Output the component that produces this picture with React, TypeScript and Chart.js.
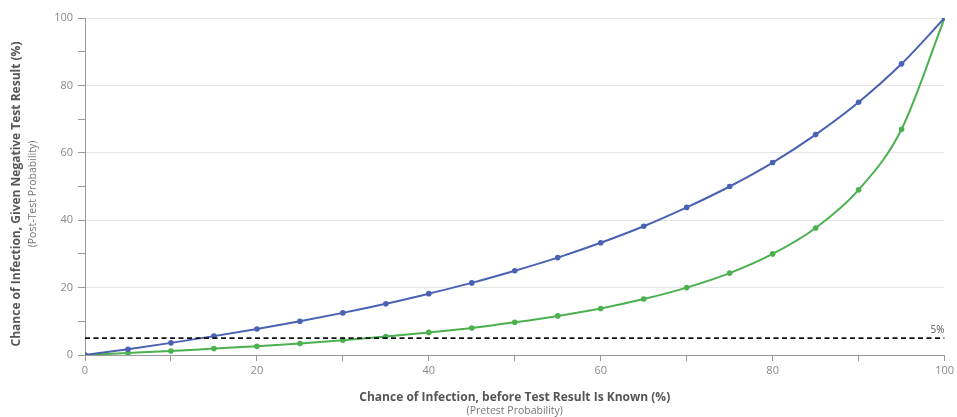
import React, { useEffect, useRef } from "react";
import { Chart, registerables } from "chart.js";

Chart.register(...registerables);

const pretest = [0, 5, 10, 15, 20, 25, 30, 35, 40, 45, 50, 55, 60, 65, 70, 75, 80, 85, 90, 95, 100];
const blueSeries = [0, 1.7, 3.6, 5.6, 7.7, 10, 12.5, 15.2, 18.2, 21.4, 25, 28.9, 33.3, 38.2, 43.8, 50, 57.1, 65.4, 75, 86.4, 100];
const greenSeries = [0, 0.6, 1.2, 1.9, 2.6, 3.4, 4.4, 5.5, 6.7, 8.0, 9.7, 11.6, 13.8, 16.6, 20.0, 24.3, 30.0, 37.7, 49.0, 67.0, 100];
const thresholdX = [0, 100];
const thresholdY = [5, 5];
const thresholdLabel = "5%";
const xTitle = "Chance of Infection, before Test Result Is Known (%)";
const xSubtitle = "(Pretest Probability)";
const yTitle = "Chance of Infection, Given Negative Test Result (%)";
const ySubtitle = "(Post-Test Probability)";

const BLUE = "#4a62b4";
const GREEN = "#4cb04f";
const FONT = "'Open Sans', 'Noto Sans', sans-serif";

export default function App() {
  const ref = useRef<HTMLCanvasElement | null>(null);

  useEffect(() => {
    if (!ref.current) return;
    const titlesPlugin = {
      id: "titles",
      afterDraw(chart: any) {
        const { ctx, chartArea, scales } = chart;
        ctx.save();
        const cx = (chartArea.left + chartArea.right) / 2;
        ctx.textAlign = "center";
        ctx.textBaseline = "middle";
        ctx.fillStyle = "#555";
        ctx.font = `bold 12px ${FONT}`;
        ctx.fillText(xTitle, cx, 398);
        ctx.fillStyle = "#777";
        ctx.font = `10.5px ${FONT}`;
        ctx.fillText(xSubtitle, cx, 411);

        ctx.save();
        ctx.translate(17, 194);
        ctx.rotate(-Math.PI / 2);
        ctx.fillStyle = "#555";
        ctx.font = `bold 12px ${FONT}`;
        ctx.fillText(yTitle, 0, 0);
        ctx.restore();

        ctx.save();
        ctx.translate(33, 194);
        ctx.rotate(-Math.PI / 2);
        ctx.fillStyle = "#777";
        ctx.font = `10.5px ${FONT}`;
        ctx.fillText(ySubtitle, 0, 0);
        ctx.restore();

        const y5 = scales.y.getPixelForValue(thresholdY[1]);
        const x100 = scales.x.getPixelForValue(thresholdX[1]);
        ctx.textAlign = "right";
        ctx.textBaseline = "bottom";
        ctx.fillStyle = "#555";
        ctx.font = `10px ${FONT}`;
        ctx.fillText(thresholdLabel, x100, y5 - 3);
        ctx.restore();
      },
    };

    const chart = new Chart(ref.current, {
      type: "line",
      data: {
        datasets: [
          {
            label: "threshold",
            data: thresholdX.map((x, i) => ({ x, y: thresholdY[i] })),
            borderColor: "#111",
            borderWidth: 1.6,
            borderDash: [5, 3.5],
            pointRadius: 0,
            fill: false,
          },
          {
            label: "Test A",
            data: pretest.map((x, i) => ({ x, y: blueSeries[i] })),
            borderColor: BLUE,
            backgroundColor: BLUE,
            borderWidth: 2,
            pointRadius: 2.8,
            pointBorderWidth: 0,
            cubicInterpolationMode: "monotone",
            fill: false,
          },
          {
            label: "Test B",
            data: pretest.map((x, i) => ({ x, y: greenSeries[i] })),
            borderColor: GREEN,
            backgroundColor: GREEN,
            borderWidth: 2,
            pointRadius: 2.8,
            pointBorderWidth: 0,
            cubicInterpolationMode: "monotone",
            fill: false,
          },
        ],
      },
      options: {
        animation: false,
        responsive: false,
        maintainAspectRatio: false,
        layout: { padding: { left: 0, top: 18, right: 8, bottom: 0 } },
        plugins: {
          legend: { display: false },
          tooltip: { enabled: false },
        },
        scales: {
          x: {
            type: "linear",
            min: 0,
            max: 100,
            border: { color: "#999", width: 1 },
            grid: {
              drawOnChartArea: false,
              drawTicks: true,
              tickLength: 6,
              tickColor: "#999",
            },
            ticks: {
              stepSize: 10,
              autoSkip: false,
              maxRotation: 0,
              padding: 3,
              color: "#888",
              font: { family: FONT, size: 11 },
              callback: (v: any) => (Number(v) % 20 === 0 ? String(v) : ""),
            },
            afterFit: (s: any) => {
              s.height = 62;
            },
          },
          y: {
            type: "linear",
            min: 0,
            max: 100,
            border: { color: "#999", width: 1 },
            grid: {
              color: (c: any) => (c.tick && c.tick.value % 20 === 0 ? "#e6e6e6" : "rgba(0,0,0,0)"),
              drawTicks: true,
              tickLength: 7,
              tickColor: "#999",
            },
            ticks: {
              stepSize: 10,
              autoSkip: false,
              padding: 5,
              color: "#888",
              font: { family: FONT, size: 11 },
              callback: (v: any) => (Number(v) % 20 === 0 ? String(v) : ""),
            },
            afterFit: (s: any) => {
              s.width = 85;
            },
          },
        },
      } as any,
      plugins: [titlesPlugin],
    });
    return () => chart.destroy();
  }, []);

  return (
    <div style={{ position: "fixed", left: 0, top: 0, width: 957, height: 417, background: "#fff" }}>
      <canvas ref={ref} width={957} height={417} style={{ display: "block", width: 957, height: 417 }} />
    </div>
  );
}
